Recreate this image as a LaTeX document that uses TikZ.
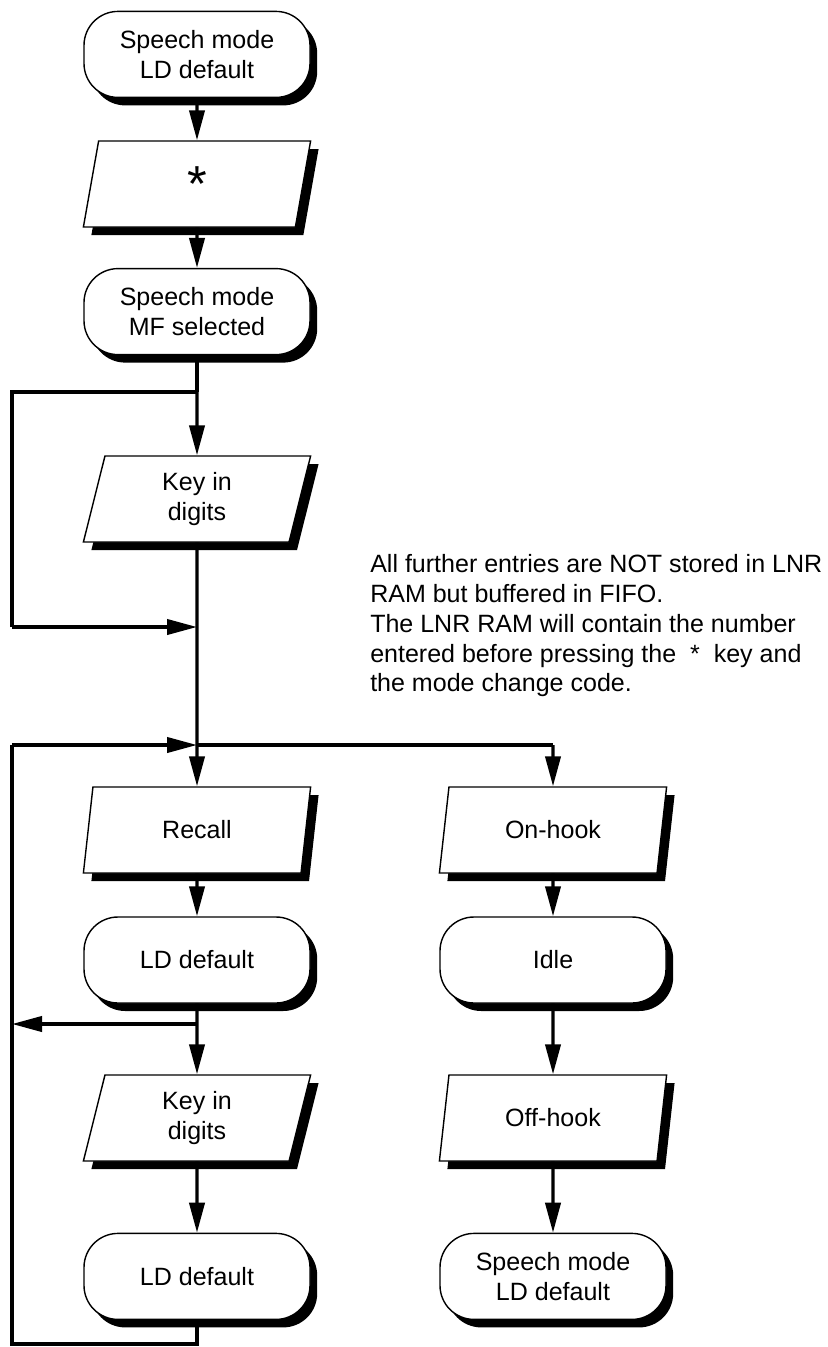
\documentclass[tikz,border=0pt]{standalone}
\usepackage{fontspec}
\setmainfont{Liberation Sans}
\usepackage{tikz}
\usetikzlibrary{arrows.meta}
\usetikzlibrary{shapes.geometric}
\usetikzlibrary{shadows}

\begin{document}
\begin{tikzpicture}
	\tikzset{state/.style = {shape=rectangle, rounded corners=0.85cm, draw, line width=1pt, fill=white,
		minimum width=5.65cm, minimum height=2.15cm, align=center, font=\fontsize{17.8}{21.3}\selectfont,
		drop shadow={shadow xshift=0.18cm, shadow yshift=-0.2cm, fill=black, opacity=1}}}
	\tikzset{entry/.style = {shape=trapezium, trapezium left angle=71, trapezium right angle=109,
		trapezium stretches body, draw, line width=1pt, fill=white,
		minimum width=5.68cm, minimum height=2.15cm, align=center, font=\fontsize{17.8}{21.3}\selectfont,
		drop shadow={shadow xshift=0.2cm, shadow yshift=-0.2cm, fill=black, opacity=1}}}
	\tikzset{line/.style = {line width=2.4pt}}
	\tikzset{edge/.style = {line, -{Triangle[length=0.75cm, width=0.38cm]}}}
	\useasboundingbox (0,0) rectangle (20.7,-33.675);
	% vertices
	\node[state] (speechld) at (4.925, -1.36) {Speech mode\\LD default};
	\node[entry] (star) at (4.925, -4.6) {\fontsize{36}{40}\selectfont *};
	\node[state] (speechmf) at (4.925, -7.79) {Speech mode\\MF selected};
	\node[entry] (keyA) at (4.925, -12.475) {Key in\\digits};
	\node[entry] (recall) at (4.925, -20.75) {Recall};
	\node[state] (ldA) at (4.925, -24.0) {LD default};
	\node[entry] (keyB) at (4.925, -27.95) {Key in\\digits};
	\node[state] (ldB) at (4.925, -31.91) {LD default};
	\node[entry] (onhook) at (13.825, -20.75) {On-hook};
	\node[state] (idle) at (13.825, -24.0) {Idle};
	\node[entry] (offhook) at (13.825, -27.95) {Off-hook};
	\node[state] (speechend) at (13.825, -31.91) {Speech mode\\LD default};
	% note
	\node[anchor=west, inner sep=0pt, align=left, font=\fontsize{17.8}{21.3}\selectfont] (note) at (9.25, -15.64)
		{All further entries are NOT stored in LNR\\RAM but buffered in FIFO.\\The LNR RAM will contain the number\\entered before pressing the \ * \ key and\\the mode change code.};
	% junctions
	\coordinate (forkA) at (4.925, -9.8);
	\coordinate (forkAl) at (0.3, -9.8);
	\coordinate (joinA) at (4.925, -15.675);
	\coordinate (joinAl) at (0.3, -15.675);
	\coordinate (forkB) at (4.925, -18.625);
	\coordinate (forkBl) at (0.3, -18.625);
	\coordinate (forkBr) at (13.825, -18.625);
	\coordinate (back) at (4.925, -25.6);
	\coordinate (backl) at (0.3, -25.6);
	\coordinate (loop) at (4.925, -33.6);
	\coordinate (loopl) at (0.3, -33.6);
	% edges
	\draw[edge] (speechld) -- (star);
	\draw[edge] (star) -- (speechmf);
	\draw[line] (speechmf) -- (forkA);
	\draw[edge] (forkA) -- (keyA);
	\draw[line] (forkA) -- (forkAl) -- (joinAl);
	\draw[edge] (joinAl) -- (joinA);
	\draw[line] (keyA) -- (forkB);
	\draw[edge] (forkB) -- (recall);
	\draw[line] (forkB) -- (forkBr);
	\draw[edge] (forkBr) -- (onhook);
	\draw[edge] (recall) -- (ldA);
	\draw[edge] (ldA) -- (keyB);
	\draw[edge] (back) -- (backl);
	\draw[edge] (keyB) -- (ldB);
	\draw[line] (ldB) -- (loop) -- (loopl) -- (forkBl);
	\draw[edge] (forkBl) -- (forkB);
	\draw[edge] (onhook) -- (idle);
	\draw[edge] (idle) -- (offhook);
	\draw[edge] (offhook) -- (speechend);
\end{tikzpicture}
\end{document}
